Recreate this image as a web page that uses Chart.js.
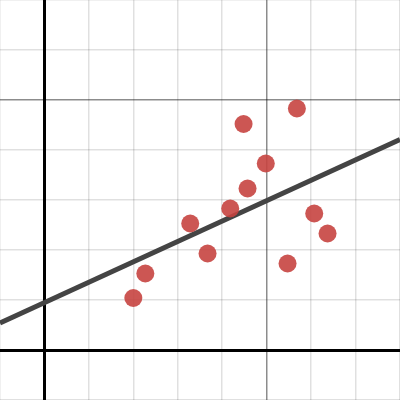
<!DOCTYPE html>
<html>
<head>
<meta charset="utf-8">
<script src="https://cdn.jsdelivr.net/npm/chart.js@4"></script>
<style>
  html, body { margin: 0; padding: 0; background: #fff; }
  #wrap { width: 400px; height: 400px; }
</style>
</head>
<body>
<div id="wrap"><canvas id="c"></canvas></div>
<script>
// scatter points
const pointX = [2.0, 2.27, 3.28, 3.67, 4.18, 4.48, 4.57, 4.98, 5.47, 5.68, 6.07, 6.37];
const pointY = [1.04, 1.53, 2.53, 1.93, 2.83, 4.52, 3.23, 3.73, 1.73, 4.83, 2.73, 2.33];

// fitted line, ends at the edges of the view
const lineX = [-1, 8];
const lineY = [0.54, 4.21];

const xMin = -1, xMax = 8;
const yMin = -1, yMax = 7;

function gridColor(ctx) {
    const v = ctx.tick ? ctx.tick.value : null;
    if (v === 0) return '#000';
    if (v === 5) return 'rgba(0,0,0,0.45)';
    return 'rgba(0,0,0,0.12)';
}
function gridWidth(ctx) {
    const v = ctx.tick ? ctx.tick.value : null;
    if (v === 0) return 3;
    return 1.5;
}

new Chart(document.getElementById('c'), {
    type: 'scatter',
    data: {
        datasets: [{
            label: 'fit',
            type: 'line',
            data: lineX.map((x, i) => ({ x: x, y: lineY[i] })),
            borderColor: '#444',
            borderWidth: 5,
            pointRadius: 0,
            fill: false,
            order: 1,
        }, {
            label: 'points',
            data: pointX.map((x, i) => ({ x: x, y: pointY[i] })),
            backgroundColor: 'rgba(199,68,64,0.9)',
            borderWidth: 0,
            pointRadius: 9,
            pointHoverRadius: 9,
            order: 0,
        }],
    },
    options: {
        responsive: true,
        maintainAspectRatio: false,
        animation: false,
        layout: { padding: 0, autoPadding: false },
        plugins: {
            legend: { display: false },
            tooltip: { enabled: false },
        },
        scales: {
            x: {
                type: 'linear',
                min: xMin,
                max: xMax,
                ticks: { display: false, stepSize: 1, padding: 0 },
                grid: { color: gridColor, lineWidth: gridWidth, drawTicks: false },
                border: { display: false },
            },
            y: {
                type: 'linear',
                min: yMin,
                max: yMax,
                ticks: { display: false, stepSize: 1, padding: 0 },
                grid: { color: gridColor, lineWidth: gridWidth, drawTicks: false },
                border: { display: false },
            },
        },
    },
});
</script>
</body>
</html>
